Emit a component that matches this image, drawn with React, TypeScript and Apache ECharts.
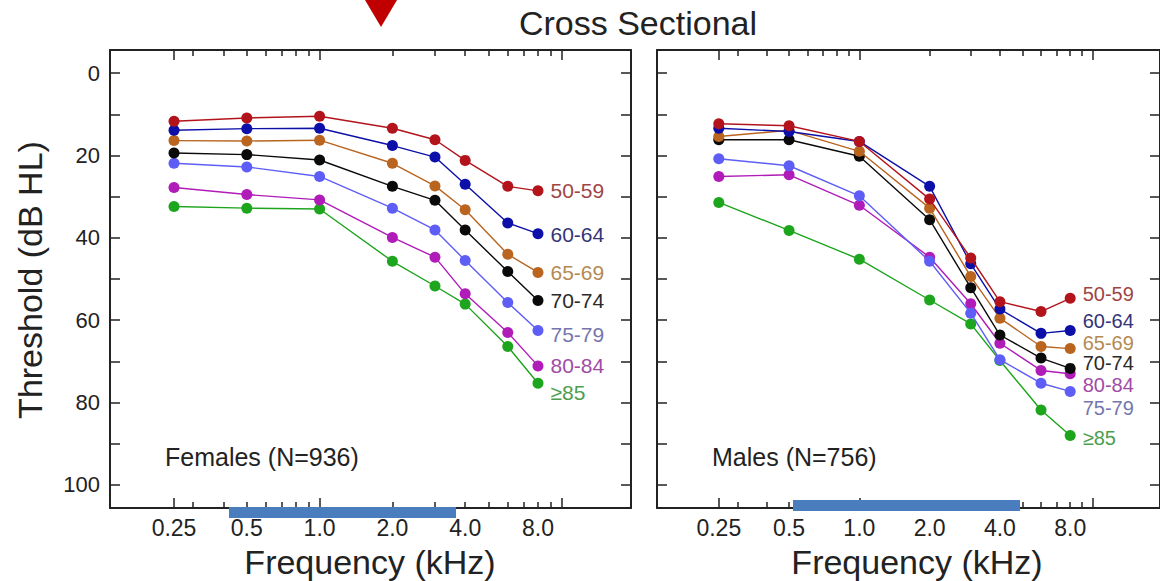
import React, { useEffect, useRef } from "react";
import * as echarts from "echarts";

const freqs = [0.25, 0.5, 1, 2, 3, 4, 6, 8];
const groups = ["50-59", "60-64", "65-69", "70-74", "75-79", "80-84", "≥85"];

const females = [
  [11.7, 10.9, 10.5, 13.4, 16.2, 21.2, 27.5, 28.6],
  [13.9, 13.5, 13.4, 17.6, 20.4, 27.0, 36.4, 39.0],
  [16.4, 16.5, 16.3, 21.9, 27.4, 33.2, 44.0, 48.4],
  [19.4, 19.8, 21.1, 27.5, 30.9, 38.1, 48.2, 55.2],
  [21.9, 22.8, 25.1, 32.8, 38.1, 45.5, 55.7, 62.5],
  [27.8, 29.5, 30.8, 39.9, 44.7, 53.6, 63.0, 71.1],
  [32.4, 32.8, 33.0, 45.7, 51.7, 56.1, 66.4, 75.3],
];

const males = [
  [12.3, 12.8, 16.6, 30.6, 44.9, 55.5, 57.9, 54.7],
  [13.4, 14.2, 16.6, 27.5, 46.3, 57.3, 63.2, 62.5],
  [15.4, 13.9, 19.0, 32.8, 49.4, 59.5, 66.4, 66.9],
  [16.2, 16.2, 20.2, 35.6, 52.1, 63.6, 69.2, 71.7],
  [20.8, 22.5, 29.8, 45.7, 58.3, 69.6, 75.3, 77.3],
  [25.1, 24.7, 32.1, 44.7, 56.0, 65.6, 72.2, 73.0],
  [31.4, 38.2, 45.2, 55.1, 60.9, 69.8, 81.8, 88.0],
];

const xTickLabels = [0.25, 0.5, 1, 2, 4, 8];
const xMajorTicks = [0.25, 1, 10];
const xMinorTicks = [0.3, 0.4, 0.5, 0.6, 0.7, 0.8, 0.9, 2, 3, 4, 5, 6, 7, 8, 9];
const yTicks = [0, 10, 20, 30, 40, 50, 60, 70, 80, 90, 100];
const yTickLabels = [0, 20, 40, 60, 80, 100];

const lineColors = ["#b3141c", "#0c10a8", "#b9651f", "#0a0a0a", "#5e5ef6", "#b01cb8", "#1ea51e"];
const labelColors = ["#a04545", "#343478", "#b48a52", "#2a2a2a", "#7676ae", "#a04ca6", "#4c9e4c"];
const leftLabelOffsets = [0, 1, 0, 0, 4, 0, 9];
const rightLabelOffsets = [-4, -9, -6, -5, 17, 11, 2];

const FONT = "Liberation Sans";
const INK = "#222";

export default function App() {
  const ref = useRef<HTMLDivElement>(null);

  useEffect(() => {
    if (!ref.current) return;
    const chart = echarts.init(ref.current, null, { renderer: "svg" });

    const xMin = 0.1359;
    const xMax = 19.4;
    const yMin = -5.6;
    const yMax = 105.6;

    const grids = [
      { left: 110, top: 50, width: 521, height: 458 },
      { left: 657, top: 50, width: 521, height: 458 },
    ];

    const xAxes: any[] = [];
    const yAxes: any[] = [];
    grids.forEach((_, g) => {
      const base = {
        type: "log",
        logBase: 2,
        min: xMin,
        max: xMax,
        gridIndex: g,
        splitLine: { show: false },
        minorTick: { show: false },
      };
      xAxes.push({
        ...base,
        position: "bottom",
        axisLine: { show: true, onZero: false, lineStyle: { color: INK, width: 2 } },
        axisTick: { show: true, inside: true, length: 10, customValues: xMajorTicks, lineStyle: { color: INK, width: 1.5 } },
        axisLabel: {
          show: true,
          customValues: xTickLabels,
          margin: 8,
          fontSize: 23,
          fontFamily: FONT,
          color: INK,
          formatter: (v: number) => (Math.abs(v - 0.25) < 1e-6 ? "0.25" : Number(v).toFixed(1)),
        },
      });
      xAxes.push({
        ...base,
        position: "bottom",
        axisLine: { show: false, onZero: false },
        axisTick: { show: true, inside: true, length: 6, customValues: xMinorTicks, lineStyle: { color: INK, width: 1.5 } },
        axisLabel: { show: false },
      });
      xAxes.push({
        ...base,
        position: "top",
        axisLine: { show: true, onZero: false, lineStyle: { color: INK, width: 2 } },
        axisTick: { show: true, inside: true, length: 10, customValues: xMajorTicks, lineStyle: { color: INK, width: 1.5 } },
        axisLabel: { show: false },
      });
      xAxes.push({
        ...base,
        position: "top",
        axisLine: { show: false, onZero: false },
        axisTick: { show: true, inside: true, length: 6, customValues: xMinorTicks, lineStyle: { color: INK, width: 1.5 } },
        axisLabel: { show: false },
      });

      const ybase = {
        type: "value",
        min: yMin,
        max: yMax,
        inverse: true,
        gridIndex: g,
        splitLine: { show: false },
      };
      yAxes.push({
        ...ybase,
        position: "left",
        axisLine: { show: true, onZero: false, lineStyle: { color: INK, width: 2 } },
        axisTick: { show: true, inside: true, length: 10, customValues: yTicks, lineStyle: { color: INK, width: 1.5 } },
        axisLabel: {
          show: g === 0,
          customValues: yTickLabels,
          margin: 10,
          fontSize: 22,
          fontFamily: FONT,
          color: INK,
        },
      });
      yAxes.push({
        ...ybase,
        position: "right",
        axisLine: { show: true, onZero: false, lineStyle: { color: INK, width: 2 } },
        axisTick: { show: true, inside: true, length: 10, customValues: yTicks, lineStyle: { color: INK, width: 1.5 } },
        axisLabel: { show: false },
      });
    });

    const makeSeries = (data: number[][], g: number, offsets: number[]) =>
      data.map((vals, i) => ({
        type: "line",
        name: groups[i] + (g === 0 ? " F" : " M"),
        xAxisIndex: g * 4,
        yAxisIndex: g * 2,
        symbol: "circle",
        symbolSize: 11,
        lineStyle: { color: lineColors[i], width: 1.4 },
        itemStyle: { color: lineColors[i], borderWidth: 0 },
        z: 10 - i,
        data: vals.map((v, k) => {
          const item: any = { value: [freqs[k], v] };
          if (k === vals.length - 1) {
            item.label = {
              show: true,
              position: "right",
              distance: 7,
              offset: [0, offsets[i]],
              formatter: groups[i],
              fontSize: g === 0 ? 21 : 20,
              fontFamily: FONT,
              color: labelColors[i],
            };
          }
          return item;
        }),
      }));

    const series = [...makeSeries(females, 0, leftLabelOffsets), ...makeSeries(males, 1, rightLabelOffsets)];

    chart.setOption({
      animation: false,
      backgroundColor: "#ffffff",
      grid: grids,
      xAxis: xAxes,
      yAxis: yAxes,
      series,
      graphic: [
        {
          type: "text",
          x: 638,
          y: 23,
          style: {
            text: "Cross Sectional",
            textAlign: "center",
            textVerticalAlign: "middle",
            fontSize: 34,
            fontFamily: FONT,
            fill: INK,
          },
        },
        {
          type: "polygon",
          shape: { points: [[365, 0], [397, 0], [381, 27]] },
          style: { fill: "#c00000" },
          z: 100,
        },
        {
          type: "text",
          x: 30,
          y: 280,
          rotation: Math.PI / 2,
          style: {
            text: "Threshold (dB HL)",
            textAlign: "center",
            textVerticalAlign: "middle",
            fontSize: 34,
            fontFamily: FONT,
            fill: INK,
          },
        },
        {
          type: "text",
          x: 370,
          y: 562,
          style: { text: "Frequency (kHz)", textAlign: "center", textVerticalAlign: "middle", fontSize: 34, fontFamily: FONT, fill: INK },
        },
        {
          type: "text",
          x: 917,
          y: 562,
          style: { text: "Frequency (kHz)", textAlign: "center", textVerticalAlign: "middle", fontSize: 34, fontFamily: FONT, fill: INK },
        },
        {
          type: "text",
          x: 165,
          y: 457,
          style: { text: "Females (N=936)", textAlign: "left", textVerticalAlign: "middle", fontSize: 25, fontFamily: FONT, fill: INK },
        },
        {
          type: "text",
          x: 712,
          y: 457,
          style: { text: "Males (N=756)", textAlign: "left", textVerticalAlign: "middle", fontSize: 25, fontFamily: FONT, fill: INK },
        },
        {
          type: "rect",
          shape: { x: 229, y: 507, width: 227, height: 11 },
          style: { fill: "#4a7dbd" },
          z: 100,
        },
        {
          type: "rect",
          shape: { x: 793, y: 500, width: 227, height: 11 },
          style: { fill: "#4a7dbd" },
          z: 100,
        },
      ],
    });

    return () => chart.dispose();
  }, []);

  return (
    <div
      ref={ref}
      style={{ position: "fixed", left: 0, top: 0, width: 1160, height: 581, background: "#fff" }}
    />
  );
}
